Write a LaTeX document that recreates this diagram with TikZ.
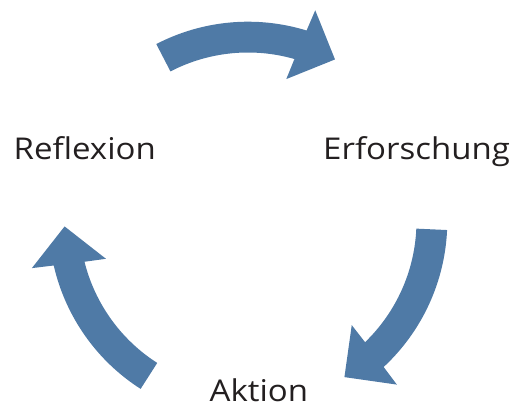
\documentclass[tikz,border=0pt]{standalone}
\usepackage{fontspec}
\setmainfont[FakeStretch=1.1]{Open Sans}
\definecolor{arrowblue}{RGB}{79,122,166}
\definecolor{textdark}{RGB}{35,31,32}
\tikzset{
  cyclearrow/.style={fill=arrowblue, draw=none},
  steplabel/.style={anchor=base west, inner sep=0pt, text=textdark, font=\fontsize{30}{30}\selectfont}
}
\begin{document}
\begin{tikzpicture}[x=1pt,y=1pt]
\useasboundingbox (0,0) rectangle (512,410);
\coordinate (c) at (248,189);
\foreach \p in {-2.6,-122.6,117.4}{
  \begin{scope}[shift={(c)}]
  \fill[cyclearrow] (\p:168.5pt) -- (\p:199.3pt)
    arc[start angle=\p, end angle=\p-44.5, radius=199.3pt]
    -- (\p-45.1:221.2pt) -- (\p-55.7:183.5pt) -- (\p-42.5:147pt)
    -- (\p-43.4:168.5pt)
    arc[start angle=\p-43.4, end angle=\p, radius=168.5pt] -- cycle;
  \end{scope}
}
\node[steplabel] (refl) at (13.5,250.7) {Reflexion};
\node[steplabel] (erf) at (323,250.7) {Erforschung};
\node[steplabel] (akt) at (209.5,8) {Aktion};
\end{tikzpicture}
\end{document}
